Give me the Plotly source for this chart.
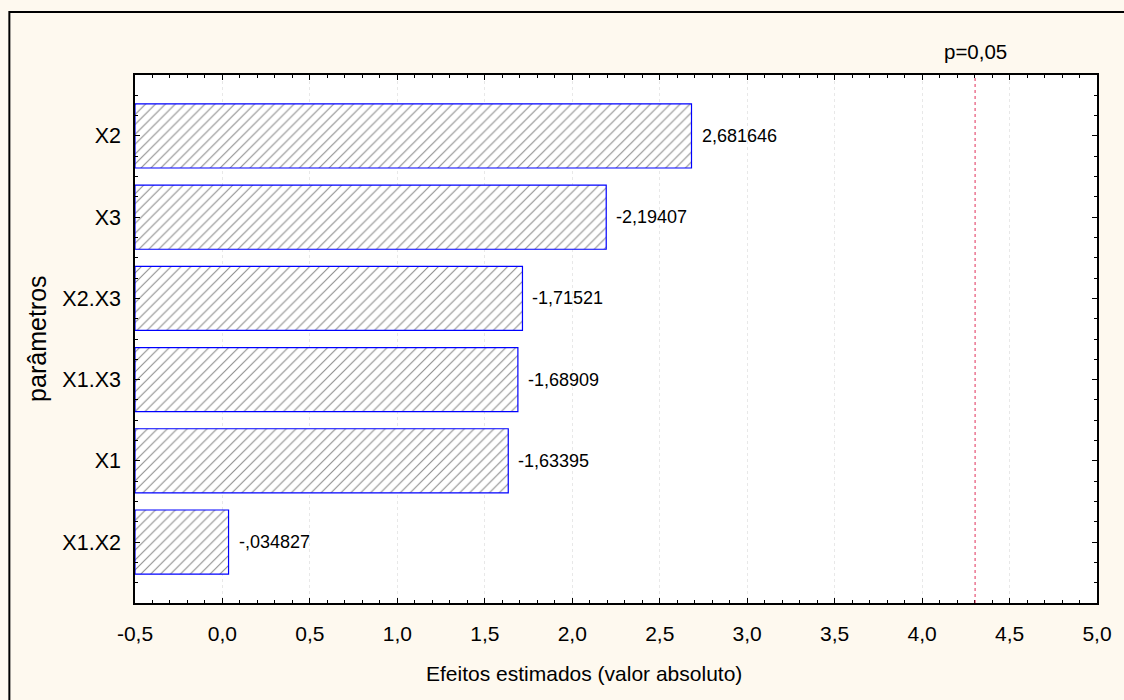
import plotly.graph_objects as go

# Pareto chart of standardized effects (absolute values)
params = ["X2", "X3", "X2.X3", "X1.X3", "X1", "X1.X2"]
effects = [2.681646, -2.19407, -1.71521, -1.68909, -1.63395, -0.034827]
t_crit = 4.303          # p = 0.05 reference line
p_label = "p=0,05"
x_title = "Efeitos estimados (valor absoluto)"
y_title = "parâmetros"
x_tickvals = [-0.5, 0.0, 0.5, 1.0, 1.5, 2.0, 2.5, 3.0, 3.5, 4.0, 4.5, 5.0]

X_MIN, X_MAX = -0.5, 5.0
FONT = "Liberation Sans, Arial, sans-serif"
BG = "#FEF9EF"


def fmt_effect(v):
    s = f"{v:.7g}"
    s = s.replace("-0.", "-.") if s.startswith("-0.") else s
    return s.replace(".", ",")


def fmt_tick(v):
    return f"{v:.1f}".replace(".", ",")


n = len(params)
ypos = [n - 1 - i for i in range(n)]          # first parameter on top
abs_eff = [abs(v) for v in effects]
lengths = [a - X_MIN for a in abs_eff]        # bars start at the left edge

fig = go.Figure()
fig.add_trace(go.Bar(
    y=ypos,
    x=lengths,
    base=X_MIN,
    orientation="h",
    width=0.79,
    marker=dict(
        color="white",
        line=dict(color="#0000FF", width=1.2),
        pattern=dict(shape="/", fgcolor="#1e1e1e", bgcolor="white",
                     size=7, solidity=0.16),
    ),
    hoverinfo="skip",
    showlegend=False,
))

for y, a, v in zip(ypos, abs_eff, effects):
    fig.add_annotation(x=a, y=y, xref="x", yref="y", text=fmt_effect(v),
                       showarrow=False, xanchor="left", yanchor="middle",
                       xshift=8, font=dict(family=FONT, size=18, color="black"))

# critical value line
fig.add_shape(type="line", xref="x", yref="paper", x0=t_crit, x1=t_crit,
              y0=0, y1=1, line=dict(color="#E0305A", width=1, dash="dot"))
fig.add_annotation(x=t_crit, y=1.045, xref="x", yref="paper", text=p_label,
                   showarrow=False, xanchor="center", yanchor="middle",
                   font=dict(family=FONT, size=20.5, color="black"))

# axis titles
fig.add_annotation(x=0.4666, y=-0.1335, xref="paper", yref="paper", text=x_title,
                   showarrow=False, xanchor="center", yanchor="middle",
                   font=dict(family=FONT, size=21, color="black"))
fig.add_annotation(x=-0.102, y=0.5, xref="paper", yref="paper", text=y_title,
                   textangle=-90, showarrow=False, xanchor="center",
                   yanchor="middle",
                   font=dict(family=FONT, size=25, color="black"))

# outer frame
fig.add_shape(type="rect", xref="paper", yref="paper",
              x0=-0.1306, x1=1.3, y0=-0.4, y1=1.1195,
              line=dict(color="black", width=2), layer="below")

fig.update_layout(
    width=1124, height=700,
    margin=dict(l=135, r=24, t=75, b=97),
    paper_bgcolor=BG, plot_bgcolor="white",
    font=dict(family=FONT, color="black"),
    bargap=0.2,
)
fig.update_xaxes(
    range=[X_MIN, X_MAX], tickvals=x_tickvals,
    ticktext=[fmt_tick(v) for v in x_tickvals],
    ticks="inside", ticklen=5, tickcolor="black", tickwidth=1,
    showline=True, linecolor="black", linewidth=1.5, mirror="ticks",
    showgrid=True, gridcolor="#E8E8E8", griddash="dot", gridwidth=1,
    zeroline=False, tickfont=dict(size=21), ticklabelstandoff=11,
    minor=dict(dtick=0.1, tick0=0, ticks="inside", ticklen=3,
               tickcolor="black", showgrid=False),
)
fig.update_yaxes(
    range=[-0.75, n - 0.25], tickvals=ypos, ticktext=params,
    ticks="inside", ticklen=5, tickcolor="black", tickwidth=1,
    showline=True, linecolor="black", linewidth=1.5, mirror="ticks",
    showgrid=False, zeroline=False, tickfont=dict(size=21.5),
    ticklabelstandoff=8,
    minor=dict(dtick=0.25, tick0=0, ticks="inside", ticklen=3,
               tickcolor="black", showgrid=False),
)

fig.write_html("out.html")
